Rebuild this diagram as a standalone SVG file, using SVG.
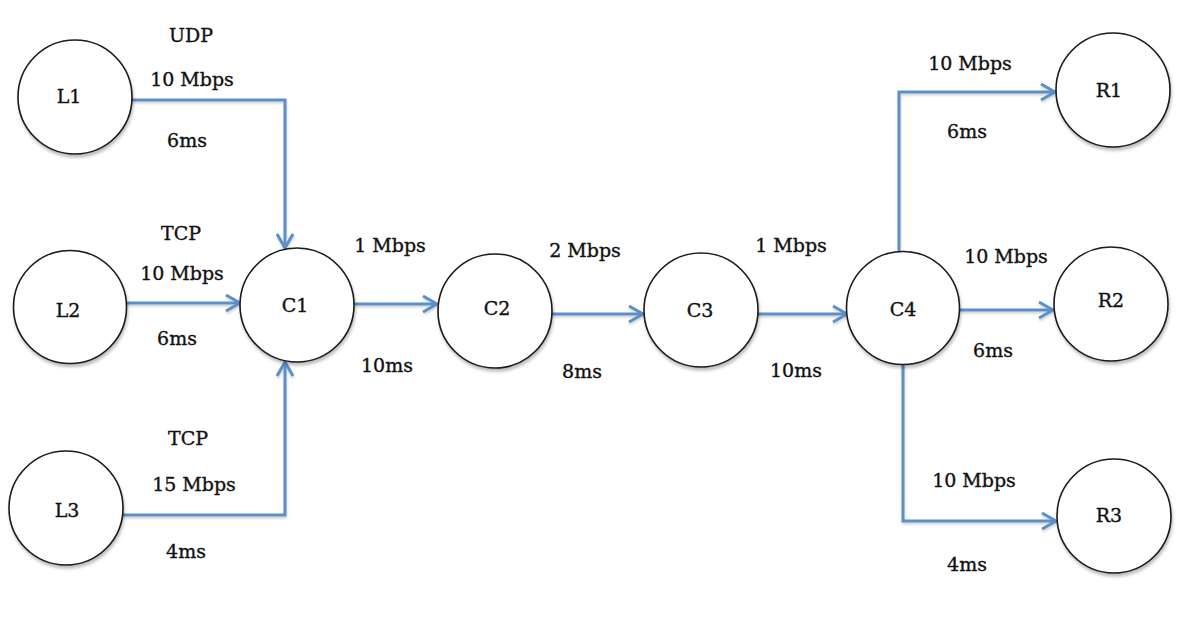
<svg xmlns="http://www.w3.org/2000/svg" width="1186" height="640" viewBox="0 0 1186 640">
  <style>
    .node circle { fill: #ffffff; stroke: #1a1a1a; stroke-width: 1.6; filter: url(#shadow); }
    .node text, .label { font-family: "DejaVu Serif", "Liberation Serif", serif; font-size: 19px; fill: #111111; stroke: #111111; stroke-width: 0.35; text-anchor: middle; }
    .link { fill: none; stroke: #5b8fc8; stroke-width: 3; stroke-linejoin: miter; }
    #connectors { filter: url(#lshadow); }
  </style>
  <defs>
    <filter id="shadow" x="-20%" y="-20%" width="140%" height="150%">
      <feDropShadow dx="1" dy="3" stdDeviation="1.5" flood-color="#000000" flood-opacity="0.25"/>
    </filter>
    <filter id="lshadow" filterUnits="userSpaceOnUse" x="0" y="0" width="1186" height="640">
      <feDropShadow dx="0.5" dy="2" stdDeviation="1" flood-color="#000000" flood-opacity="0.18"/>
    </filter>
    <marker id="arrow" markerUnits="userSpaceOnUse" markerWidth="20" markerHeight="20" viewBox="-16 -10 20 20" refX="0" refY="0" orient="auto">
      <path d="M-14,-8 L0,0 L-14,8" fill="none" stroke="#5b8fc8" stroke-width="3"/>
    </marker>
  </defs>

  <rect width="1186" height="640" fill="#ffffff"/>

  <!-- links between hosts and routers -->
  <g id="connectors">
    <path class="link" d="M132,100 H285 V248" marker-end="url(#arrow)"/>
    <path class="link" d="M126,303 H240" marker-end="url(#arrow)"/>
    <path class="link" d="M120,515 H285 V362" marker-end="url(#arrow)"/>
    <path class="link" d="M354,304 H437" marker-end="url(#arrow)"/>
    <path class="link" d="M552,314 H643" marker-end="url(#arrow)"/>
    <path class="link" d="M758,314 H847" marker-end="url(#arrow)"/>
    <path class="link" d="M899,252 V92 H1055" marker-end="url(#arrow)"/>
    <path class="link" d="M960,310 H1053" marker-end="url(#arrow)"/>
    <path class="link" d="M903,364 V521 H1056" marker-end="url(#arrow)"/>
  </g>

  <!-- link labels -->
  <g id="link-labels">
    <text class="label" x="191" y="42">UDP</text>
    <text class="label" x="192" y="86">10 Mbps</text>
    <text class="label" x="187" y="147">6ms</text>

    <text class="label" x="181" y="240">TCP</text>
    <text class="label" x="182" y="280">10 Mbps</text>
    <text class="label" x="177" y="345">6ms</text>

    <text class="label" x="188" y="445">TCP</text>
    <text class="label" x="194" y="491">15 Mbps</text>
    <text class="label" x="186" y="558">4ms</text>

    <text class="label" x="390" y="252">1 Mbps</text>
    <text class="label" x="387" y="372">10ms</text>

    <text class="label" x="585" y="257">2 Mbps</text>
    <text class="label" x="582" y="378">8ms</text>

    <text class="label" x="791" y="252">1 Mbps</text>
    <text class="label" x="796" y="377">10ms</text>

    <text class="label" x="970" y="70">10 Mbps</text>
    <text class="label" x="967" y="138">6ms</text>

    <text class="label" x="1006" y="263">10 Mbps</text>
    <text class="label" x="993" y="357">6ms</text>

    <text class="label" x="974" y="487">10 Mbps</text>
    <text class="label" x="967" y="571">4ms</text>
  </g>

  <!-- nodes -->
  <g id="L1" class="node"><circle cx="75" cy="97" r="57"/><text x="69" y="103">L1</text></g>
  <g id="L2" class="node"><circle cx="70" cy="307" r="56.5"/><text x="68" y="317">L2</text></g>
  <g id="L3" class="node"><circle cx="66" cy="508" r="57"/><text x="67" y="517">L3</text></g>
  <g id="C1" class="node"><circle cx="297" cy="305" r="57"/><text x="295" y="312">C1</text></g>
  <g id="C2" class="node"><circle cx="495" cy="311" r="57"/><text x="497" y="315">C2</text></g>
  <g id="C3" class="node"><circle cx="701" cy="310" r="57"/><text x="700" y="317">C3</text></g>
  <g id="C4" class="node"><circle cx="903" cy="308" r="56.5"/><text x="903" y="316">C4</text></g>
  <g id="R1" class="node"><circle cx="1113" cy="90" r="57"/><text x="1109" y="97">R1</text></g>
  <g id="R2" class="node"><circle cx="1111" cy="304" r="57"/><text x="1111" y="307">R2</text></g>
  <g id="R3" class="node"><circle cx="1114" cy="516" r="57"/><text x="1109" y="522">R3</text></g>
</svg>
